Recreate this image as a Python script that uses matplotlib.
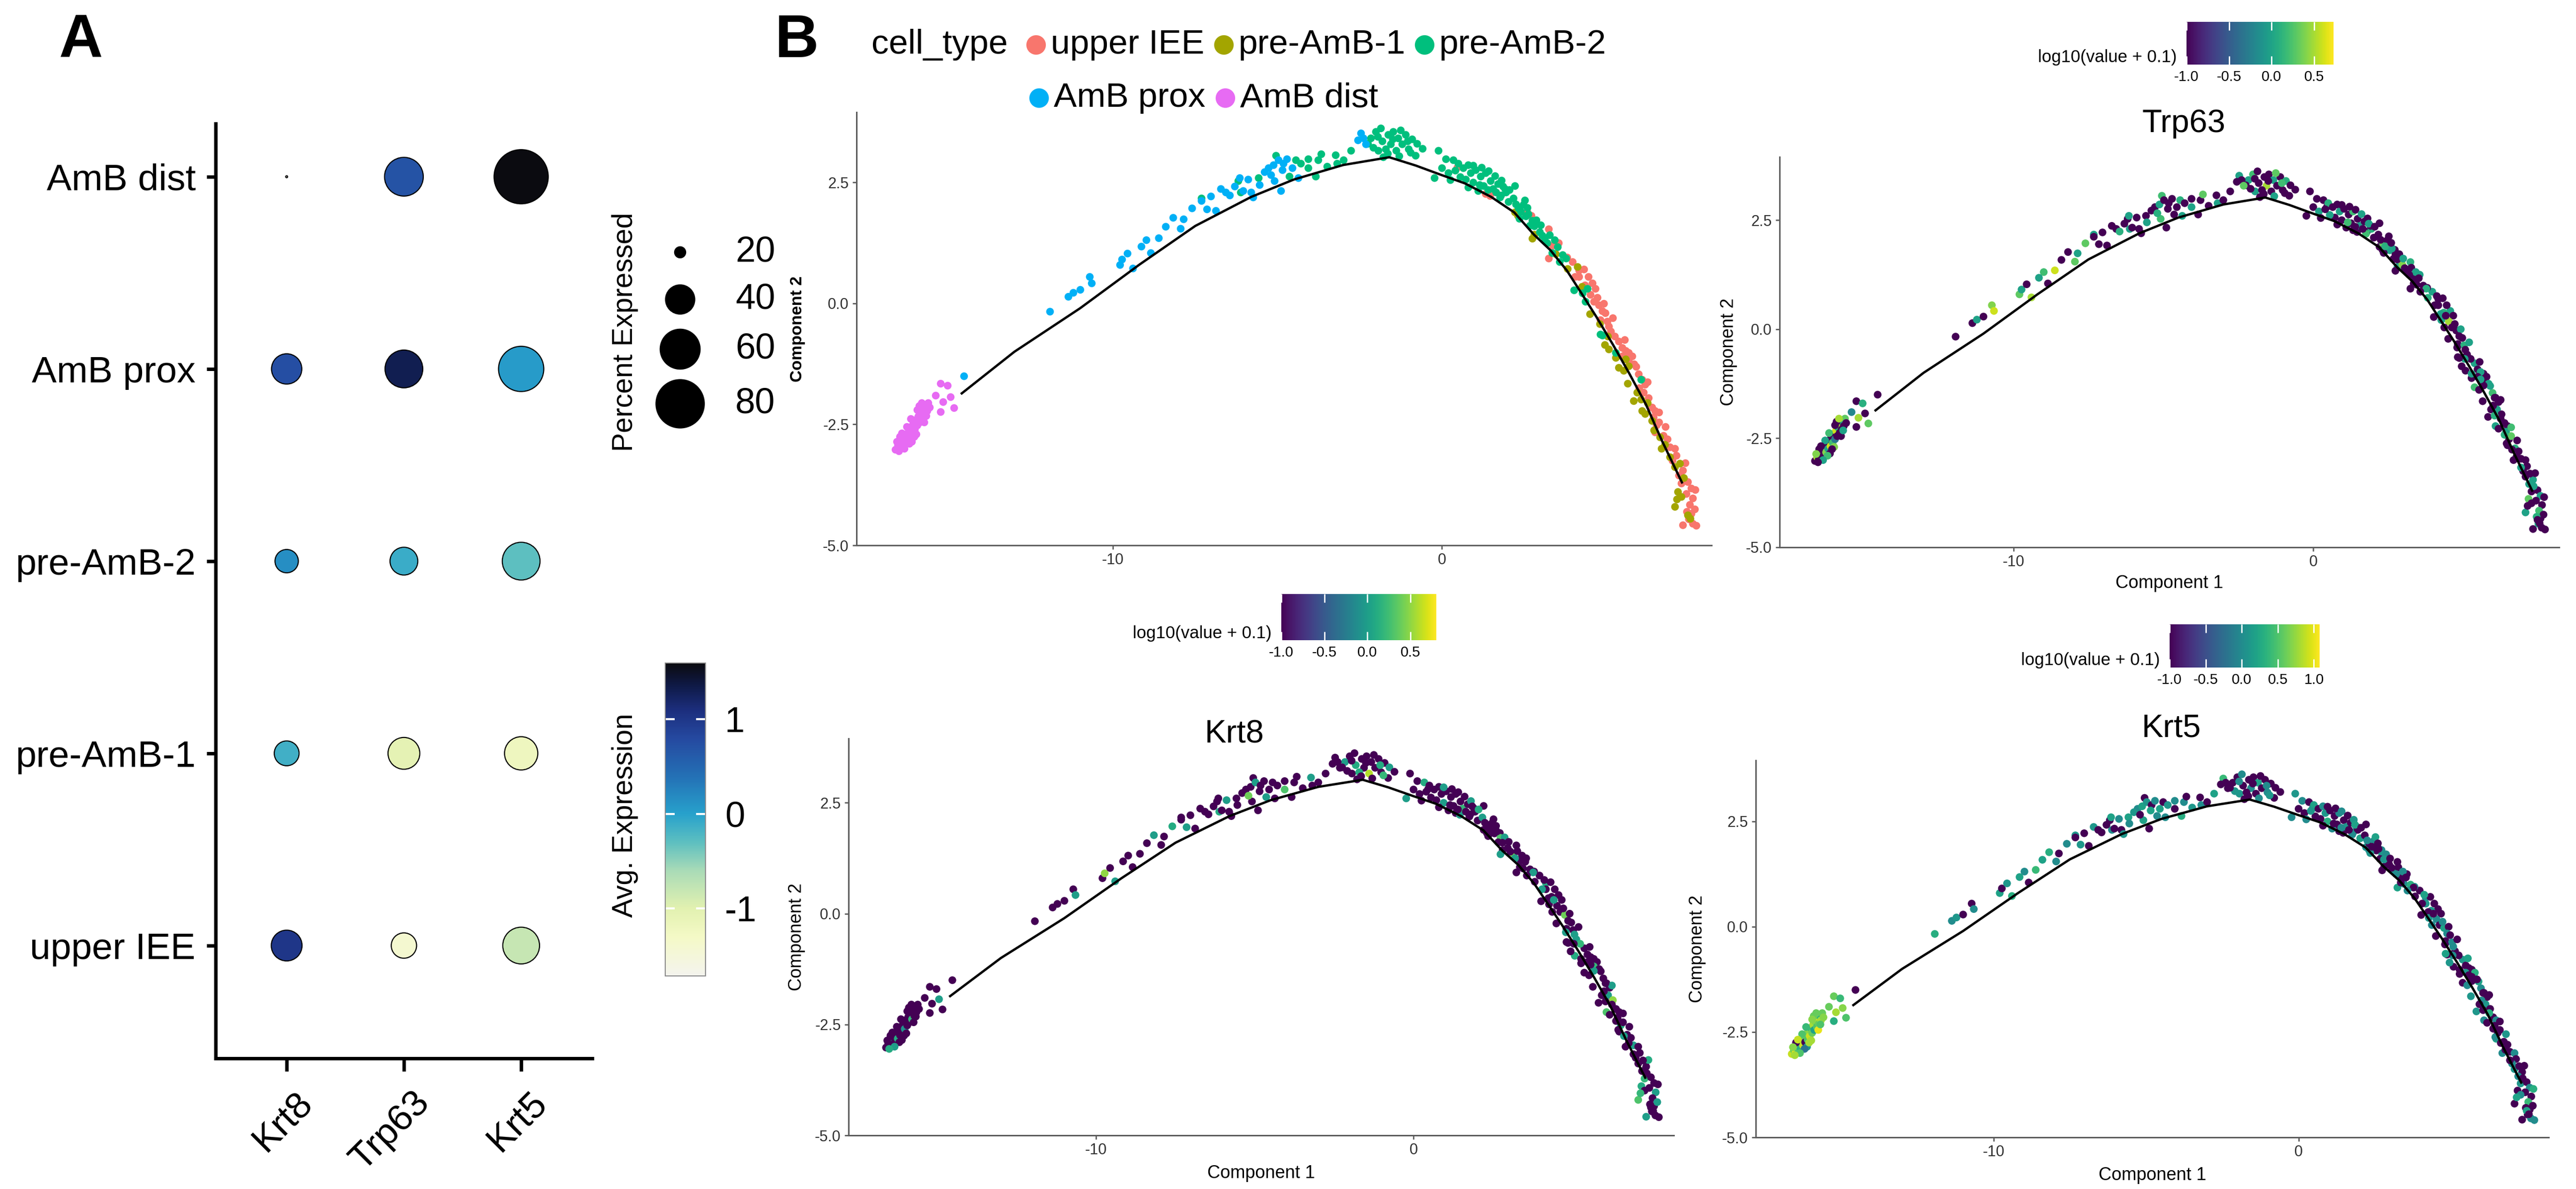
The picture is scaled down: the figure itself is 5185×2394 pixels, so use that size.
import numpy as np
import matplotlib
matplotlib.use("Agg")
import matplotlib.pyplot as plt
from matplotlib.colors import LinearSegmentedColormap, Normalize
from matplotlib.cm import ScalarMappable
from matplotlib.ticker import FormatStrFormatter
from matplotlib.transforms import ScaledTranslation

plt.rcParams["font.family"] = ["Liberation Sans", "DejaVu Sans"]
plt.rcParams["axes.unicode_minus"] = False

# =====================
# Panel A: dot plot data
# =====================

genes = ["Krt8", "Trp63", "Krt5"]
groups = ["upper IEE", "pre-AmB-1", "pre-AmB-2", "AmB prox", "AmB dist"]

# rows = groups, cols = genes
avg_exp = [
    [1.00, -1.40, -0.80],
    [-0.15, -1.05, -1.20],
    [0.15, -0.10, -0.30],
    [0.75, 1.30, 0.05],
    [-1.71, 0.70, 1.59],
]
pct_exp = [
    [41.9, 33.7, 52.7],
    [33.0, 43.6, 46.2],
    [31.1, 37.2, 54.7],
    [41.1, 54.7, 71.3],
    [16.6, 56.7, 95.1],
]
legend_pct = [20, 40, 60, 80]
avg_ticks = [-1, 0, 1]

# =====================
# Panel B: trajectory data (Component 1 / Component 2)
# =====================

traj_x = [-14.6, -13.0, -11.0, -9.2, -7.5, -5.8, -4.5, -3.0, -1.6, -0.8, 0.0, 0.7,
          1.5, 2.2, 2.8, 3.3, 3.8, 4.3, 4.7, 5.2, 5.7, 6.2, 6.7, 7.3]
traj_y = [-1.86, -1.0, -0.1, 0.8, 1.6, 2.2, 2.56, 2.86, 3.02, 2.85, 2.65, 2.48,
          2.2, 1.88, 1.42, 1.1, 0.68, 0.15, -0.28, -0.85, -1.45, -2.08, -2.85, -3.7]

# AmB dist
dist_x = [-16.62, -16.55, -16.50, -16.45, -16.40, -16.38, -16.33, -16.30, -16.25, -16.22,
          -16.18, -16.15, -16.10, -16.08, -16.03, -16.00, -15.95, -15.92, -15.88, -15.85,
          -15.80, -15.78, -15.73, -15.70, -15.66, -15.62, -15.58, -16.48, -16.28, -16.12,
          -15.98, -15.90, -16.20, -15.24, -15.03, -14.95, -14.84, -15.17, -15.24, -15.40,
          -16.58, -16.42, -16.35, -16.05, -15.82, -15.75, -16.15, -15.95, -16.52, -15.68]
dist_y = [-3.02, -2.93, -3.00, -2.85, -2.95, -2.78, -2.88, -2.70, -2.82, -2.62,
          -2.74, -2.55, -2.68, -2.48, -2.60, -2.40, -2.52, -2.33, -2.45, -2.25,
          -2.38, -2.18, -2.30, -2.12, -2.22, -2.05, -2.15, -2.75, -2.55, -2.85,
          -2.70, -2.12, -2.90, -1.65, -1.70, -1.93, -2.16, -2.03, -2.24, -1.90,
          -2.86, -2.68, -3.00, -2.75, -2.05, -2.45, -2.38, -2.20, -3.05, -2.32]
dist_trp63 = [-1, 0.5, -1, 0.1, -1, 0.6, -1, -0.2, 0.4, -1,
              0.0, -1, 0.6, -1, 0.2, -1, -0.3, 0.6, -1, 0.1,
              -1, 0.5, -1, 0.0, -1, 0.3, -1, -1, 0.0, -1,
              0.4, -1, 0.2, -1, 0.1, -1, 0.3, 0.5, -1, -0.2,
              0.4, -1, 0.0, -1, 0.5, -1, 0.2, -1, -1, 0.0]
dist_krt8 = [-1, -1, -1, 0.0, -1, -1, -1, -1, 0.1, -1,
             -1, -1, -1, -1, -0.1, -1, -1, -1, -1, -1,
             0.2, -1, -1, -1, -1, -1, -1, -1, -1, -1,
             -1, -1, -1, -1, -1, 0.0, -1, -1, -1, -1,
             -1, -1, 0.0, -1, -1, -1, -1, -1, 0.1, -1]
dist_krt5 = [0.9, 0.6, 1.0, 0.7, 0.5, 0.8, 0.3, 0.7, 0.9, 0.6,
             -1, 0.8, 0.5, 0.7, 0.9, 0.4, 0.6, 0.8, 0.2, 0.7,
             0.5, 0.9, 0.6, 0.3, 0.8, 0.6, 0.7, -1, 0.5, 0.1,
             0.8, 0.6, -0.2, 0.6, 0.4, 0.7, 0.5, 0.8, 0.3, 0.6,
             0.7, 0.9, 0.5, 0.8, 0.6, 1.0, 0.4, 0.7, 0.8, 0.5]

# AmB prox
prox_x = [-14.53, -11.93, -11.37, -11.22, -11.00, -10.72, -10.65, -9.80, -9.73, -9.56,
          -9.40, -8.99, -8.62, -8.40, -8.18, -7.86, -7.60, -7.32, -7.03, -6.88,
          -6.72, -6.57, -6.46, -6.15, -5.89, -6.04, -5.81, -5.74, -5.28, -5.13,
          -4.98, -4.82, -4.71, -5.09, -4.90, -4.37, -2.47, -2.39, -2.32, -5.40,
          -5.20, -4.85, -9.15, -8.85, -7.95, -7.15, -6.30, -5.55, -4.55, -2.55]
prox_y = [-1.50, -0.17, 0.14, 0.22, 0.29, 0.55, 0.42, 0.80, 0.91, 1.03,
          0.73, 1.31, 1.35, 1.59, 1.77, 1.74, 1.97, 2.12, 2.22, 1.92,
          2.37, 2.30, 2.24, 2.60, 2.56, 2.33, 2.30, 2.20, 2.80, 2.86,
          2.96, 2.89, 2.99, 2.53, 2.33, 2.60, 3.52, 3.42, 3.29, 2.72,
          2.66, 2.76, 1.18, 1.05, 1.55, 1.95, 2.42, 2.45, 2.80, 3.38]
prox_trp63 = [-1, -1, -1, 0.0, -1, 0.4, 0.6, 0.3, 0.0, -1,
              0.5, 0.2, 0.6, -1, -1, 0.0, 0.3, -1, -1, -1,
              -1, -1, 0.1, 0.0, -1, -1, -1, -1, -1, 0.0,
              -1, -1, -1, 0.2, -1, 0.0, 0.0, -1, 0.3, -1,
              0.1, -1, 0.0, -1, 0.3, -1, -1, 0.0, -1, -1]
prox_krt8 = [-1, -1, -1, -1, -1, -1, 0.0, -1, 0.5, -1,
             0.0, -1, -1, -1, 0.0, -1, 0.1, -1, -1, -1,
             -1, -1, -1, -1, 0.0, -1, -1, -1, -1, -1,
             0.0, -1, -1, -1, -1, -1, -1, -1, -1, -1,
             0.4, -1, -1, -1, -1, 0.0, -1, -1, -1, -1]
prox_krt5 = [-1, 0.3, 0.0, 0.1, -1, -1, 0.0, 0.2, -1, 0.1,
             0.3, 0.0, 0.4, 0.2, 0.3, -1, 0.0, -1, -1, -1,
             0.1, -1, -1, 0.2, 0.0, -1, -1, 0.1, 0.0, 0.2,
             0.1, -1, 0.0, 0.2, -1, 0.0, 0.4, -1, -1, 0.1,
             -1, 0.2, 0.2, -1, 0.0, 0.1, -1, 0.0, 0.2, -1]

# pre-AmB-2
amb2_x = [-7.32, -6.19, -6.12, -5.58, -5.05, -4.64, -4.44, -4.29, -4.06, -4.06,
          -3.84, -3.76, -3.68, -3.49, -3.23, -3.19, -3.00, -2.77, -2.16, -2.01,
          -1.86, -1.82, -1.94, -1.78, -1.63, -1.56, -1.48, -1.40, -1.33, -1.21,
          -1.10, -1.02, -0.91, -0.76, -0.80, -2.09, -1.71, -1.25, -1.95, -1.50,
          -1.65, -0.11, -0.23, 0.00, 0.19, 0.12, 0.34, 0.50, 0.65, 0.80,
          0.72, 0.88, 1.03, 0.95, 1.18, 1.33, 1.26, 1.48, 1.56, 1.71,
          1.79, 1.94, 2.02, 2.17, 2.32, 2.47, 2.55, 2.74, 0.80, 1.10,
          1.21, 1.41, 1.61, 1.81, 1.91, 1.76, 2.21, 2.52, 2.62, 2.87,
          2.67, 2.97, 3.12, 3.27, 3.42, 3.52, 3.67, 3.77, 3.57, 4.02,
          4.27, 4.42, 4.37, 4.87, 5.28, 4.82, 6.05, -1.05, -0.60, 2.35,
          0.25, 0.55, 0.40, 0.95, 1.15, 1.40, 1.65, 1.85, 2.05, 2.25,
          2.40, 2.60, 2.80, 3.00, 3.20, 3.35, 3.05, -1.30, -2.25, -0.95]
amb2_y = [2.17, 2.53, 2.30, 2.60, 3.06, 2.63, 2.96, 2.89, 2.99, 2.80,
          2.63, 2.96, 3.09, 2.83, 3.07, 2.89, 2.96, 3.16, 3.42, 3.55,
          3.62, 3.35, 3.16, 3.03, 3.49, 3.29, 3.55, 3.16, 3.42, 3.29,
          3.49, 3.19, 3.40, 3.30, 3.06, 3.22, 3.19, 3.58, 3.45, 3.40,
          3.10, 3.16, 2.60, 2.80, 2.70, 2.99, 2.96, 2.89, 2.80, 2.86,
          2.56, 2.70, 2.76, 2.50, 2.63, 2.70, 2.43, 2.53, 2.37, 2.47,
          2.24, 2.30, 2.10, 2.17, 1.97, 2.04, 1.81, 1.71, 2.40, 2.33,
          2.81, 2.74, 2.64, 2.54, 2.37, 2.19, 2.43, 2.13, 1.85, 1.72,
          1.61, 1.48, 1.34, 1.41, 1.31, 1.17, 1.00, 0.93, 0.86, 0.28,
          0.21, 0.31, 0.04, -0.66, -1.02, -0.64, -1.57, 3.35, 3.20, 1.75,
          2.55, 2.62, 2.75, 2.85, 2.45, 2.35, 2.30, 2.42, 2.35, 2.05,
          1.90, 1.98, 1.60, 1.62, 1.25, 1.05, 1.40, 3.05, 3.30, 3.12]
amb2_trp63 = [0.0, -1, 0.0, -1, 0.2, -1, 0.1, -1, -1, 0.0,
              -1, -1, 0.3, -1, -1, 0.0, -1, -1, 0.0, 0.2,
              -1, -1, 0.0, -1, -1, 0.5, -1, -1, 0.0, -1,
              -1, -1, 0.1, -1, -1, -1, -1, 0.3, -1, -1,
              -1, -1, -1, -1, 0.0, -1, -1, 0.1, -1, -1,
              -1, 0.0, -1, -1, -1, 0.2, -1, -1, 0.0, -1,
              -1, 0.1, -1, -1, 0.3, -1, 0.0, -1, -1, -1,
              -1, -1, 0.0, -1, -1, 0.2, -1, -1, 0.0, -1,
              -1, 0.4, -1, -1, 0.0, -1, -1, 0.1, -1, -1,
              0.0, -1, -1, -1, 0.0, -1, -1, 0.2, -1, -1,
              -1, 0.0, -1, -1, 0.2, -1, -1, 0.0, -1, -1,
              0.1, -1, -1, 0.0, -1, -1, -1, 0.0, -1, -1]
amb2_krt8 = [-1, -1, 0.1, -1, -1, 0.0, -1, -1, -1, 0.3,
             -1, -1, -1, -1, 0.0, -1, -1, -1, 0.0, -1,
             -1, 0.1, -1, -1, -1, -1, -1, 0.6, -1, -1,
             -1, -1, -1, 0.0, -1, -1, 0.1, -1, -1, -1,
             -1, -1, 0.0, -1, -1, -1, 0.1, -1, -1, -1,
             -1, -1, -1, 0.0, -1, -1, -1, -1, 0.2, -1,
             -1, -1, -1, 0.0, -1, -1, -1, 0.3, -1, -1,
             -1, -1, -1, 0.0, -1, -1, -1, -1, -1, 0.0,
             -1, -1, 0.4, -1, -1, -1, -1, 0.0, -1, -1,
             -1, 0.0, -1, -1, -1, -1, -1, 0.1, -1, -1,
             -1, -1, -1, 0.0, -1, -1, -1, -1, 0.1, -1,
             -1, -1, -1, -1, 0.0, -1, -1, -1, -1, 0.2]
amb2_krt5 = [0.1, -1, 0.0, 0.2, -1, 0.0, -1, 0.1, 0.0, -1,
             0.3, 0.0, -1, 0.1, -1, 0.0, -1, 0.2, -1, -1,
             0.0, -1, 0.1, -1, -1, 0.0, -1, -1, 0.2, -1,
             -1, 0.0, -1, -1, -1, 0.1, -1, -1, 0.0, -1,
             -1, 0.1, 0.0, -1, -1, 0.0, -1, 0.2, -1, 0.0,
             -1, 0.1, -1, 0.3, -1, 0.0, -1, -1, 0.1, -1,
             0.0, -1, 0.2, -1, -1, 0.0, -1, 0.1, -1, 0.0,
             -1, 0.0, -1, 0.1, -1, 0.0, -1, 0.2, -1, 0.0,
             -1, -1, 0.1, -1, 0.0, -1, 0.3, -1, 0.0, -1,
             0.1, -1, 0.0, -1, -1, 0.2, -1, 0.0, -1, 0.1,
             0.0, -1, 0.1, -1, -1, 0.0, -1, 0.2, -1, 0.0,
             -1, -1, 0.1, -1, 0.0, -1, -1, 0.0, -1, 0.1]

# upper IEE
iee_x = [0.46, 1.33, 2.59, 1.46, 2.72, 3.24, 3.37, 3.24, 3.97, 4.17,
         4.32, 4.17, 4.57, 4.67, 4.52, 4.62, 4.77, 4.92, 4.87, 4.97,
         4.82, 5.03, 5.13, 5.38, 5.48, 5.68, 5.07, 5.58, 5.78, 5.68,
         5.98, 6.08, 6.18, 6.13, 6.38, 6.48, 6.43, 6.53, 6.48, 6.73,
         6.93, 7.08, 7.13, 7.33, 7.28, 7.48, 7.58, 7.43, 7.63, 7.53,
         7.58, 7.33, 7.73, 7.51, 5.48, 6.28, 6.60, 7.00, 7.68, 5.90,
         3.55, 3.80, 4.05, 4.35, 4.45, 4.72, 5.20, 5.25, 5.55, 5.85,
         6.00, 6.25, 6.60, 6.80, 6.85, 7.20, 7.40, 7.70, 7.45, 7.62]
iee_y = [2.81, 2.27, 1.89, 2.23, 1.82, 1.54, 1.20, 0.93, 0.86, 0.69,
         0.71, 0.55, 0.42, 0.31, 0.18, 0.04, -0.03, 0.00, -0.16, -0.20,
         -0.34, -0.37, -0.58, -0.78, -0.92, -1.02, -0.47, -0.98, -1.09, -1.19,
         -1.46, -1.57, -1.67, -1.84, -2.15, -2.22, -2.35, -2.52, -2.66, -2.73,
         -2.97, -3.00, -3.14, -3.45, -3.72, -3.69, -3.82, -3.93, -4.03, -4.16,
         -4.34, -4.58, -4.59, -4.46, -1.09, -1.95, -2.45, -3.25, -4.25, -1.30,
         1.25, 0.95, 0.55, 0.38, 0.55, 0.12, -0.30, -0.68, -0.75, -1.25,
         -1.75, -1.62, -2.25, -2.55, -2.80, -3.55, -3.30, -3.85, -4.30, -4.55]
iee_trp63 = [-1, -1, 0.0, -1, -1, 0.1, -1, -1, 0.0, -1,
             -1, -1, 0.0, -1, 0.5, -1, -1, 0.0, -1, -1,
             -1, 0.1, -1, 0.0, -1, -1, -1, 0.0, -1, -1,
             0.2, -1, -1, 0.0, -1, -1, 0.0, -1, -1, 0.1,
             -1, -1, -1, 0.0, -1, -1, 0.0, -1, -1, 0.2,
             -1, -1, -1, 0.0, -1, -1, 0.3, -1, -1, 0.0,
             0.0, -1, -1, 0.1, -1, -1, 0.0, -1, -1, 0.0,
             -1, -1, 0.2, -1, -1, 0.0, -1, -1, 0.1, -1]
iee_krt8 = [-1, -1, -1, 0.0, -1, -1, -1, -1, -1, 0.1,
            -1, -1, -1, -1, -1, -1, 0.4, -1, -1, -1,
            -1, -1, 0.0, -1, -1, -1, 0.0, -1, -1, 0.2,
            -1, -1, -1, 0.0, -1, -1, -1, 0.1, -1, -1,
            0.0, -1, -1, -1, 0.2, -1, -1, -1, 0.0, -1,
            -1, 0.0, -1, -1, -1, 0.5, -1, -1, 0.0, -1,
            -1, -1, 0.0, -1, -1, -1, -1, 0.2, -1, -1,
            -1, 0.0, -1, -1, -1, -1, 0.1, -1, -1, -1]
iee_krt5 = [0.0, -1, 0.1, -1, 0.0, -1, -1, 0.2, -1, 0.0,
            -1, 0.1, -1, -1, 0.0, -1, 0.2, -1, 0.0, -1,
            -1, 0.0, -1, 0.1, -1, -1, 0.0, -1, 0.3, -1,
            0.0, -1, -1, 0.1, -1, 0.0, -1, -1, 0.2, -1,
            -1, 0.0, -1, -1, 0.1, -1, 0.0, -1, -1, 0.4,
            -1, -1, 0.0, -1, 0.1, -1, -1, 0.0, -1, 0.2,
            -1, 0.0, -1, 0.1, -1, 0.0, -1, -1, 0.2, -1,
            0.0, -1, -1, 0.1, -1, 0.0, -1, 0.3, -1, 0.0]

# pre-AmB-1
amb1_x = [2.21, 2.81, 2.31, 2.74, 3.82, 4.12, 4.50, 5.05, 5.08, 4.95,
          5.38, 5.53, 5.68, 5.58, 5.83, 5.93, 6.08, 6.18, 6.25, 6.38,
          6.63, 6.68, 6.93, 7.08, 7.23, 7.18, 7.28, 7.08, 7.48, 5.28,
          3.45, 4.25, 4.80, 5.65, 6.05, 6.45, 6.78, 7.35, 7.15, 7.55]
amb1_y = [1.89, 1.43, 1.82, 1.34, 0.72, 0.76, -0.22, -0.68, -0.95, -0.85,
          -1.33, -1.39, -1.29, -1.15, -2.01, -1.84, -2.22, -2.28, -2.05, -2.42,
          -2.76, -3.00, -3.17, -3.38, -3.31, -3.89, -3.99, -4.20, -4.37, -1.12,
          1.02, 0.35, -0.42, -1.65, -1.98, -2.62, -2.92, -3.60, -4.05, -4.45]
amb1_trp63 = [-1, 0.0, -1, -1, 0.1, -1, -1, 0.0, -1, -1,
              0.2, -1, -1, 0.0, -1, -1, 0.0, -1, -1, 0.1,
              -1, -1, 0.0, -1, -1, 0.3, -1, 0.0, -1, -1,
              -1, 0.0, -1, -1, 0.1, -1, -1, 0.0, -1, -1]
amb1_krt8 = [-1, -1, -1, 0.0, -1, -1, -1, -1, 0.1, -1,
             -1, -1, 0.0, -1, -1, -1, 0.3, -1, -1, -1,
             0.0, -1, -1, -1, -1, 0.1, -1, 0.3, -1, -1,
             -1, -1, 0.0, -1, -1, -1, -1, -1, 0.2, -1]
amb1_krt5 = [0.1, -1, 0.0, -1, -1, 0.2, -1, 0.0, -1, 0.1,
             -1, 0.0, -1, -1, 0.1, -1, 0.0, -1, 0.3, -1,
             -1, 0.0, -1, 0.1, -1, -1, 0.0, -1, 0.2, -1,
             0.0, -1, -1, 0.1, -1, 0.0, -1, -1, 0.2, -1]

cell_types = ["upper IEE", "pre-AmB-1", "pre-AmB-2", "AmB prox", "AmB dist"]
type_colors = ["#F8766D", "#A3A500", "#00BF7D", "#00B0F6", "#E76BF3"]

# color limits of log10(value + 0.1) per gene
expr_limits = {"Trp63": (-1.0, 0.73), "Krt8": (-1.0, 0.80), "Krt5": (-1.0, 1.08)}
expr_ticks = {"Trp63": [-1.0, -0.5, 0.0, 0.5],
              "Krt8": [-1.0, -0.5, 0.0, 0.5],
              "Krt5": [-1.0, -0.5, 0.0, 0.5, 1.0]}

# =====================
# Figure helpers
# =====================

W, H, DPI = 5185, 2394, 100
fig = plt.figure(figsize=(W / DPI, H / DPI), dpi=DPI)


def px_axes(l, t, r, b):
    return fig.add_axes([l / W, 1 - b / H, (r - l) / W, (b - t) / H])


def ftext(x, y, s, **kw):
    return fig.text(x / W, 1 - y / H, s, **kw)


def dot_area(p):
    # area grows with percent expressed
    return 4980 * np.clip((np.asarray(p, dtype=float) - 16.5) / 63.5, 0.0015, None)


lay = fig.add_axes([0, 0, 1, 1])
lay.set_xlim(0, W)
lay.set_ylim(H, 0)
lay.axis("off")

# =====================
# Panel A
# =====================

avg_stops = [-1.71, -1.3, -1.0, -0.6, -0.3, 0.0, 0.4, 0.8, 1.1, 1.35, 1.59]
avg_cols = ["#f4f4ee", "#f4f9c6", "#e2f1b0", "#a9dbb7", "#5dbfc0", "#27a1cc",
            "#2470b5", "#2549a0", "#1c2e7d", "#0f1a48", "#0b0b10"]
lo, hi = avg_stops[0], avg_stops[-1]
avg_cmap = LinearSegmentedColormap.from_list(
    "avg", [((v - lo) / (hi - lo), c) for v, c in zip(avg_stops, avg_cols)])
avg_norm = Normalize(lo, hi)

axA = px_axes(434, 249, 1192, 2131)
gx, gy = np.meshgrid(np.arange(len(genes)), np.arange(len(groups)))
axA.scatter(gx.ravel(), gy.ravel(), s=dot_area(np.ravel(pct_exp)),
            c=np.ravel(avg_exp), cmap=avg_cmap, norm=avg_norm,
            edgecolors="black", linewidths=1.6, zorder=3, clip_on=False)
axA.set_xlim(-0.606, 2.606)
axA.set_ylim(-0.587, 4.276)
for side in ["top", "right"]:
    axA.spines[side].set_visible(False)
for side in ["left", "bottom"]:
    axA.spines[side].set_linewidth(5)
    axA.spines[side].set_capstyle("projecting")
axA.set_xticks(range(len(genes)))
axA.set_xticklabels(genes, rotation=45, ha="right", rotation_mode="anchor", fontsize=54)
axA.set_yticks(range(len(groups)))
axA.set_yticklabels(groups, fontsize=54)
axA.tick_params(axis="y", length=13, width=5, pad=16)
axA.tick_params(axis="x", length=19, width=5, pad=20)
for lab in axA.get_xticklabels():
    lab.set_transform(lab.get_transform() + ScaledTranslation(0.16, 0, fig.dpi_scale_trans))

# size legend
ftext(1258, 668, "Percent Expressed", rotation=90, ha="center", va="center", fontsize=41)
leg_y = [508, 603, 703, 813]
lay.scatter([1369] * len(legend_pct), leg_y, s=dot_area(legend_pct), color="black")
for p, y in zip(legend_pct, leg_y):
    ftext(1480, y, str(p), ha="left", va="center", fontsize=52)

# colour legend
caxA = px_axes(1339, 1335, 1420, 1965)
cbA = fig.colorbar(ScalarMappable(norm=avg_norm, cmap=avg_cmap), cax=caxA)
cbA.set_ticks(avg_ticks)
cbA.set_ticklabels([str(t) for t in avg_ticks])
cbA.ax.tick_params(direction="in", length=14, width=3, color="white",
                   left=True, right=True, labelsize=52, pad=28)
cbA.outline.set_edgecolor("#8a8a8a")
cbA.outline.set_linewidth(1.5)
ftext(1258, 1642, "Avg. Expression", rotation=90, ha="center", va="center", fontsize=41)

# =====================
# Panel B
# =====================

cell_x = np.array(iee_x + amb1_x + amb2_x + prox_x + dist_x)
cell_y = np.array(iee_y + amb1_y + amb2_y + prox_y + dist_y)
cell_type = np.array(["upper IEE"] * len(iee_x) + ["pre-AmB-1"] * len(amb1_x)
                     + ["pre-AmB-2"] * len(amb2_x) + ["AmB prox"] * len(prox_x)
                     + ["AmB dist"] * len(dist_x))
expr = {
    "Trp63": np.array(iee_trp63 + amb1_trp63 + amb2_trp63 + prox_trp63 + dist_trp63),
    "Krt8": np.array(iee_krt8 + amb1_krt8 + amb2_krt8 + prox_krt8 + dist_krt8),
    "Krt5": np.array(iee_krt5 + amb1_krt5 + amb2_krt5 + prox_krt5 + dist_krt5),
}

panels = {
    "cell_type": (1724, 226, 3445, 1098),
    "Trp63": (3582, 316, 5151, 1102),
    "Krt8": (1708, 1487, 3369, 2286),
    "Krt5": (3534, 1531, 5130, 2290),
}
ylab_x = {"cell_type": 1621, "Trp63": 3497, "Krt8": 1621, "Krt5": 3434}
xlab_y = {"Trp63": 1175, "Krt8": 2363, "Krt5": 2366}
titles = {"Trp63": (4396, 249), "Krt8": (2484, 1479), "Krt5": (4370, 1467)}
cbar_boxes = {"Trp63": (4401, 44, 4697, 130), "Krt8": (2579, 1196, 2891, 1289),
              "Krt5": (4367, 1257, 4669, 1344)}

axis_grey = "#5e5e5e"
pt_size = 125

for name, (l, t, r, b) in panels.items():
    ax = px_axes(l, t, r, b)
    if name == "cell_type":
        for ct, col in zip(cell_types, type_colors):
            m = cell_type == ct
            ax.scatter(cell_x[m], cell_y[m], s=pt_size, color=col, linewidths=0, zorder=2)
    else:
        vmin, vmax = expr_limits[name]
        ax.scatter(cell_x, cell_y, s=pt_size, c=expr[name], cmap="viridis",
                   vmin=vmin, vmax=vmax, linewidths=0, zorder=2)
    ax.plot(traj_x, traj_y, color="black", lw=3.4, zorder=3)
    ax.set_xlim(-17.8, 8.2)
    ax.set_ylim(-5.0, 3.95)
    for side in ["top", "right"]:
        ax.spines[side].set_visible(False)
    for side in ["left", "bottom"]:
        ax.spines[side].set_color(axis_grey)
        ax.spines[side].set_linewidth(2.2)
    ax.set_xticks([-10, 0])
    ax.set_yticks([-5.0, -2.5, 0.0, 2.5])
    ax.yaxis.set_major_formatter(FormatStrFormatter("%.1f"))
    ax.tick_params(length=6, width=2, color=axis_grey, labelsize=22,
                   labelcolor="#333333", pad=5)
    if name == "cell_type":
        ax.set_ylabel("Component 2", fontsize=24, fontweight="bold")
    else:
        ax.set_ylabel("Component 2", fontsize=26)
    ax.yaxis.set_label_coords((ylab_x[name] - l) / (r - l), 0.5)
    if name != "cell_type":
        ax.set_xlabel("Component 1", fontsize=26)
        ax.xaxis.set_label_coords(0.5, -(xlab_y[name] - b) / (b - t))
        ax.xaxis.label.set_va("center")
        tx, ty = titles[name]
        ftext(tx, ty, name, ha="center", va="center", fontsize=47)

        cl, ct_, cr, cb_ = cbar_boxes[name]
        cax = px_axes(cl, ct_, cr, cb_)
        vmin, vmax = expr_limits[name]
        cb = fig.colorbar(ScalarMappable(norm=Normalize(vmin, vmax), cmap="viridis"),
                          cax=cax, orientation="horizontal")
        cb.set_ticks(expr_ticks[name])
        cb.set_ticklabels(["%.1f" % v for v in expr_ticks[name]])
        cb.ax.tick_params(direction="in", length=12, width=2, color="white",
                          top=True, bottom=True, labelsize=21, pad=8)
        cb.outline.set_visible(False)
        ftext(cl - 20, cb_ - 14, "log10(value + 0.1)", ha="right", va="center", fontsize=25)

# cell type legend
ftext(1754, 90, "cell_type", ha="left", va="center", fontsize=50)
leg_items = [("upper IEE", 2085, 90), ("pre-AmB-1", 2463, 90), ("pre-AmB-2", 2867, 90),
             ("AmB prox", 2091, 197), ("AmB dist", 2466, 197)]
for (lab, x, y), col in zip(leg_items, type_colors):
    lay.scatter([x], [y], s=800, color=col, linewidths=0)
    ftext(x + 30, y, lab, ha="left", va="center", fontsize=50)

# panel letters
ftext(119, 115, "A", ha="left", va="baseline", fontsize=88, fontweight="bold")
ftext(1560, 115, "B", ha="left", va="baseline", fontsize=88, fontweight="bold")

fig.savefig("out.png", dpi=DPI, facecolor="white")
